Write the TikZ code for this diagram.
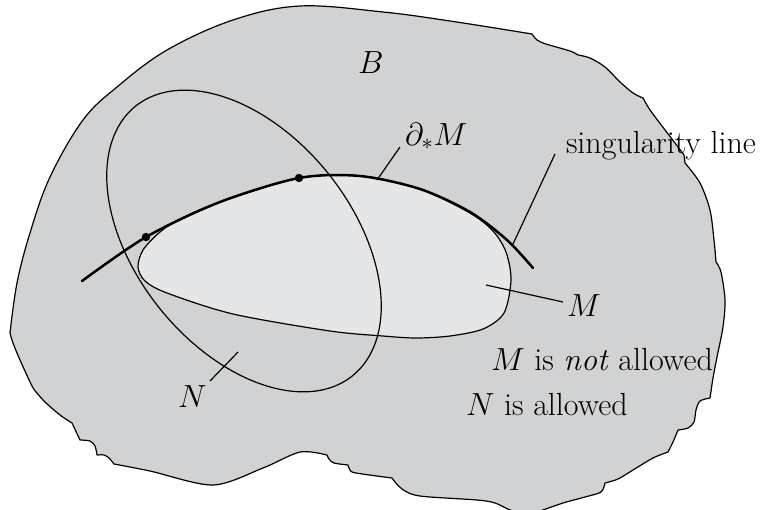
\RequirePackage{fix-cm}
\documentclass[tikz,border=0pt]{standalone}
\definecolor{regionB}{RGB}{209,210,212}
\definecolor{regionM}{RGB}{229,230,232}
\begin{document}
\begin{tikzpicture}[x=0.5pt,y=-0.5pt,
  thinline/.style={line width=0.6pt, line join=round},
  thickline/.style={line width=1.25pt, line cap=round},
  leader/.style={line width=0.6pt},
  lbl/.style={anchor=base west, inner sep=0pt, outer sep=0pt, font=\fontsize{16}{19}\selectfont},
  dot/.style={circle, fill=black, inner sep=0pt, minimum size=4.2pt}]
\useasboundingbox (0,0) rectangle (766,509);
% region B
\filldraw[thinline, fill=regionB]
  plot[smooth,tension=0.6] coordinates {(10,333) (17,283) (30,233) (50,177) (83,120) (117,87) (167,50) (233,20) (300,6) (383,12) (450,21) (532,34)}
  -- plot[smooth] coordinates {(532,34) (537,40) (546,44) (570,51) (578,55)}
  -- plot[smooth] coordinates {(578,55) (590,58) (605,67) (620,82) (633,93) (643,98)}
  -- plot[smooth] coordinates {(643,98) (650,110) (662,126) (675,143) (684,155)}
  -- (685,163)
  -- plot[smooth] coordinates {(685,163) (700,183) (710,210) (714,240) (716,262)}
  -- plot[smooth] coordinates {(716,262) (721,272) (725,300) (723,327) (717,357) (713,378) (710,398)}
  -- plot[smooth] coordinates {(710,398) (700,401) (696,410) (694,422) (688,428) (678,430)}
  -- plot[smooth] coordinates {(678,430) (673,442) (668,452)}
  -- plot[smooth] coordinates {(668,452) (653,458) (633,470) (618,479) (605,483)}
  -- plot[smooth] coordinates {(605,483) (601,492) (585,497) (563,503) (540,511) (527,515)}
  -- plot[smooth] coordinates {(527,515) (510,510) (495,503) (477,500) (420,496) (402,489) (392,478)}
  -- plot[smooth] coordinates {(392,478) (356,473) (350,470) (348,465)}
  -- plot[smooth] coordinates {(348,465) (334,463) (329,459) (327,455)}
  -- plot[smooth] coordinates {(327,455) (300,452) (263,468) (213,485) (150,471) (114,464)}
  -- plot[smooth] coordinates {(114,464) (109,458) (104,455) (97,455)}
  -- plot[smooth] coordinates {(97,455) (95,446) (90,441) (80,440)}
  -- (72,423)
  -- plot[smooth] coordinates {(72,423) (60,415) (45,402) (37,393)}
  -- plot[smooth] coordinates {(37,393) (32,386) (20,360) (13,343) (10,333)}
  -- cycle;
% region M
\filldraw[thinline, fill=regionM]
  plot[smooth cycle] coordinates {(180,219) (220,202) (299,178) (360,176) (420,189) (470,213) (493,231) (506,252) (511,280) (504,313) (483,329) (450,336) (416,338) (383,336) (330,331) (233,314) (167,293) (145,281) (138,267) (143,250) (160,232)};
% N ellipse
\draw[thinline] plot[domain=0:360, samples=120, smooth, variable=\t]
  ({244 + 108.5*cos(\t) - 84.1*sin(\t)}, {241 + 134.8*cos(\t) + 67.7*sin(\t)});
% singular line / boundary
\draw[thickline] plot[smooth] coordinates {(82,281) (146,237) (220,202) (299,178) (360,176) (420,189) (470,212) (507,240) (533,268)};
\node[dot] (p1) at (146,237) {};
\node[dot] (p2) at (299,178) {};
% labels
\node[lbl] (Blab) at (358,73) {$B$};
\node[lbl] (dMlab) at (405,145) {$\partial_*M$};
\node[lbl] (singlab) at (566,153) {singularity line};
\node[lbl] (Mlab) at (567,316) {$M$};
\node[lbl] (notall) at (491,370) {$M$ is \emph{not} allowed};
\node[lbl] (isall) at (466,415) {$N$ is allowed};
\node[lbl] (Nlab) at (178,407) {$N$};
% leaders
\coordinate (dMa) at (400,147); \coordinate (dMb) at (377,180);
\coordinate (sa) at (555,154); \coordinate (sb) at (513,244);
\coordinate (Ma) at (563,302); \coordinate (Mb) at (486,285);
\coordinate (Na) at (210,381); \coordinate (Nb) at (238,352);
\draw[leader] (dMa) -- (dMb);
\draw[leader] (sa) -- (sb);
\draw[leader] (Ma) -- (Mb);
\draw[leader] (Na) -- (Nb);
\end{tikzpicture}
\end{document}
